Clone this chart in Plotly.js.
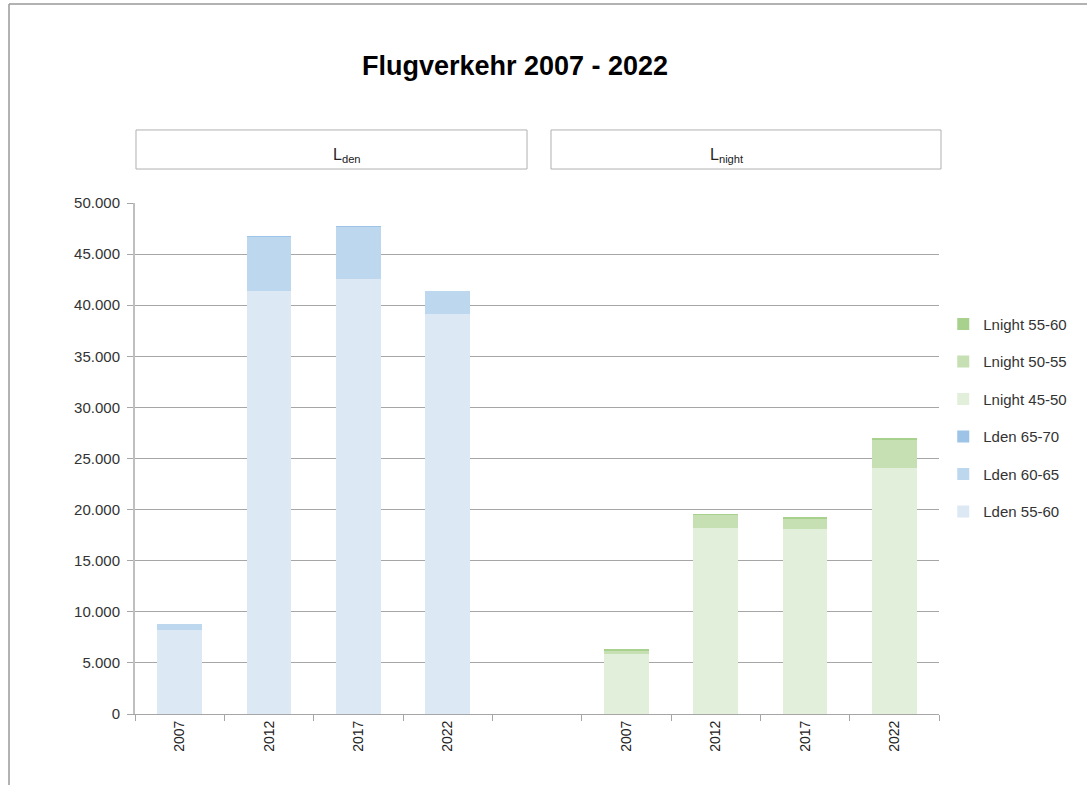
<!DOCTYPE html>
<html>
<head>
<meta charset="utf-8">
<script src="https://cdn.plot.ly/plotly-3.0.1.min.js"></script>
<style>html,body{margin:0;padding:0;background:#fff;}#chart{width:1087px;height:785px;}</style>
</head>
<body>
<div id="chart"></div>
<script>
// Data
const years = ["2007", "2012", "2017", "2022"];
const ldenPos = [0, 1, 2, 3];
const lnightPos = [5, 6, 7, 8];
const lden5560 = [8240, 41400, 42560, 39100];
const lden6065 = [600, 5300, 5050, 2300];
const lden6570 = [0, 100, 100, 0];
const lnight4550 = [5900, 18230, 18130, 24100];
const lnight5055 = [300, 1200, 950, 2700];
const lnight5560 = [150, 150, 150, 170];

const colors = {
  lden5560: "#dde8f5", lden6065: "#bdd7ee", lden6570: "#9dc3e6",
  lnight4550: "#e2efda", lnight5055: "#c6e0b4", lnight5560: "#a9d18e"
};

function bar(name, x, y, color, group, rank) {
  return {type: "bar", name: name, x: x, y: y, width: 0.5,
    marker: {color: color, line: {width: 0}}, legendgroup: group, legendrank: rank,
    hoverinfo: "y+name"};
}

const traces = [
  bar("Lden 55-60", ldenPos, lden5560, colors.lden5560, "a", 6),
  bar("Lden 60-65", ldenPos, lden6065, colors.lden6065, "b", 5),
  bar("Lden 65-70", ldenPos, lden6570, colors.lden6570, "c", 4),
  bar("Lnight 45-50", lnightPos, lnight4550, colors.lnight4550, "d", 3),
  bar("Lnight 50-55", lnightPos, lnight5055, colors.lnight5055, "e", 2),
  bar("Lnight 55-60", lnightPos, lnight5560, colors.lnight5560, "f", 1)
];

const font = "Liberation Sans, Arial, sans-serif";
const layout = {
  width: 1087, height: 785,
  margin: {l: 135, r: 148, t: 203, b: 71, autoexpand: false},
  paper_bgcolor: "#fff", plot_bgcolor: "#fff",
  barmode: "stack",
  separators: ",.",
  font: {family: font, size: 14, color: "#333"},
  title: {text: "<b>Flugverkehr 2007 - 2022</b>", x: 0.4738, xref: "container", xanchor: "center",
    y: 0.916, yanchor: "middle", font: {family: font, size: 27, color: "#000"}},
  xaxis: {
    range: [-0.5, 8.5], tickmode: "array", tickvals: ldenPos.concat(lnightPos),
    ticktext: years.concat(years), tickangle: -90, ticks: "", showgrid: false,
    zeroline: false, showline: true, linecolor: "#a6a6a6", linewidth: 1,
    tickfont: {size: 14, color: "#222"},
    minor: {tick0: 0.5, dtick: 1, ticks: "outside", ticklen: 6, tickcolor: "#a6a6a6", showgrid: false}
  },
  yaxis: {
    range: [0, 50000], dtick: 5000, tickformat: ",d", ticks: "outside", ticklen: 6,
    tickcolor: "#a6a6a6", showline: true, linecolor: "#bfbfbf", linewidth: 2,
    gridcolor: "#a6a6a6", gridwidth: 1, zeroline: false, ticklabelstandoff: 4,
    tickfont: {size: 15, color: "#333"}
  },
  legend: {x: 1.0053, y: 0.795, xanchor: "left", yanchor: "top", traceorder: "grouped",
    tracegroupgap: 15, font: {size: 15, color: "#333"}, bgcolor: "rgba(0,0,0,0)"},
  shapes: [
    {type: "rect", xref: "paper", yref: "paper", x0: 0.00124, x1: 0.4876, y0: 1.0665, y1: 1.1429,
      line: {color: "#b0b0b0", width: 1}, fillcolor: "#fff"},
    {type: "rect", xref: "paper", yref: "paper", x0: 0.5174, x1: 1.0025, y0: 1.0665, y1: 1.1429,
      line: {color: "#b0b0b0", width: 1}, fillcolor: "#fff"},
    {type: "line", xref: "paper", yref: "paper", x0: -0.1567, x1: -0.1567, y0: 1.3894, y1: -0.14,
      line: {color: "#999", width: 1.5}},
    {type: "line", xref: "paper", yref: "paper", x0: -0.1567, x1: 1.19, y0: 1.3894, y1: 1.3894,
      line: {color: "#999", width: 1.5}}
  ],
  annotations: [
    {xref: "paper", yref: "paper", x: 0.2438, y: 1.116, showarrow: false,
      text: "L<sub>den</sub>", font: {size: 16, color: "#222"}},
    {xref: "paper", yref: "paper", x: 0.76, y: 1.116, showarrow: false,
      text: "L<sub>night</sub>", font: {size: 16, color: "#222"}}
  ]
};

Plotly.newPlot("chart", traces, layout, {displayModeBar: false, staticPlot: true});
</script>
</body>
</html>
